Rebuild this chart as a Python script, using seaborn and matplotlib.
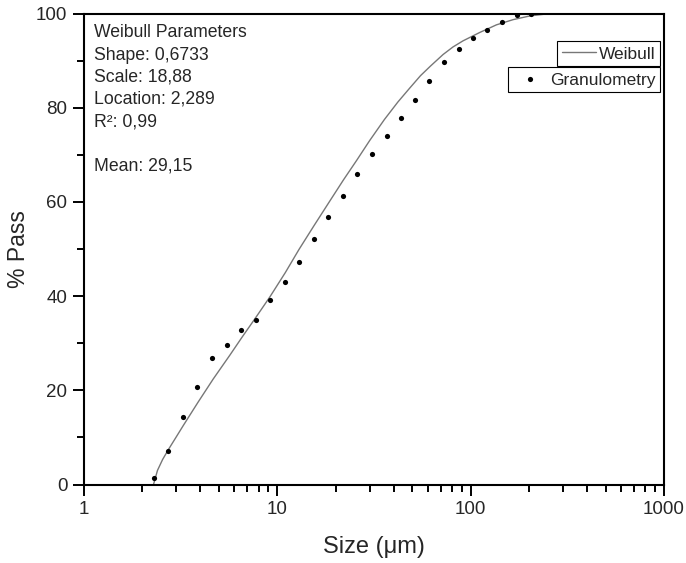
import matplotlib
matplotlib.use("Agg")
import numpy as np
import pandas as pd
import seaborn as sns
import matplotlib.pyplot as plt
from matplotlib.ticker import LogLocator, MultipleLocator, NullFormatter, FixedLocator, FixedFormatter

# ---- data ----
size_um = [2.29, 2.73, 3.25, 3.85, 4.57, 5.46, 6.49, 7.73, 9.16, 10.92, 12.95, 15.44,
           18.3, 21.8, 25.8, 30.8, 36.7, 43.4, 51.5, 61.0, 72.8, 87.0, 102.9, 121.0,
           145.0, 173.8, 205.0]
pass_pct = [1.4, 7.2, 14.3, 20.7, 26.9, 29.6, 32.8, 35.0, 39.1, 43.0, 47.3, 52.2,
            56.8, 61.3, 65.9, 70.2, 74.1, 77.9, 81.7, 85.6, 89.6, 92.4, 94.7, 96.4,
            98.1, 99.6, 100.0]

fit_size = [2.289, 2.4, 2.55, 2.74, 3.0, 3.26, 3.88, 4.66, 5.69, 6.6, 7.69, 9.14, 11.0,
            12.94, 15.5, 18.76, 22.0, 25.7, 30.0, 35.8, 42.0, 48.0, 55.0, 61.8, 72.0,
            81.0, 91.3, 111.7, 136.0, 165.8, 203.0, 246.0]
fit_pass = [0.0, 3.0, 5.3, 7.5, 10.1, 12.5, 17.4, 22.4, 27.5, 31.4, 35.3, 39.8, 45.0,
            49.9, 55.0, 60.3, 64.7, 68.8, 73.0, 77.5, 81.2, 84.0, 86.8, 88.8, 91.3,
            92.9, 94.2, 96.0, 97.6, 98.7, 99.5, 99.9]

x_ticks = [1, 10, 100, 1000]
x_tick_labels = ["1", "10", "100", "1000"]
y_ticks = [0, 20, 40, 60, 80, 100]
param_lines = ["Weibull Parameters", "Shape: 0,6733", "Scale: 18,88",
               "Location: 2,289", "R²: 0,99", "", "Mean: 29,15"]

sns.set_style("ticks")
plt.rcParams['font.family'] = ['Liberation Sans', 'DejaVu Sans']

fig = plt.figure(figsize=(6.86, 5.63), dpi=100)
ax = fig.add_axes([0.1224, 0.1394, 0.8456, 0.8366])

sns.lineplot(x=fit_size, y=fit_pass, ax=ax, color='#777777', lw=1.0, label='Weibull')
sns.scatterplot(x=size_um, y=pass_pct, ax=ax, color='black', s=14, linewidth=0,
                label='Granulometry', zorder=3)

ax.set_xscale('log')
ax.set_xlim(1, 1000)
ax.set_ylim(0, 100)

ax.xaxis.set_major_locator(FixedLocator(x_ticks))
ax.xaxis.set_major_formatter(FixedFormatter(x_tick_labels))
ax.xaxis.set_minor_locator(LogLocator(base=10, subs=np.arange(2, 10)))
ax.xaxis.set_minor_formatter(NullFormatter())
ax.set_yticks(y_ticks)
ax.yaxis.set_minor_locator(MultipleLocator(10))

for sp in ax.spines.values():
    sp.set_linewidth(1.5)
    sp.set_color('black')

ax.tick_params(which='major', direction='out', length=8, width=1.4, labelsize=13.5,
               color='black', pad=4)
ax.tick_params(which='minor', direction='out', length=5, width=1.4, color='black')
ax.tick_params(top=False, right=False, which='both')

ax.set_xlabel("Size (μm)", fontsize=17, labelpad=13)
ax.set_ylabel("% Pass", fontsize=16.5, labelpad=4)

ax.text(0.017, 0.977, "\n".join(param_lines), transform=ax.transAxes, ha='left',
        va='top', fontsize=12.7, linespacing=1.40)

# legends: two separate boxes
h, l = ax.get_legend_handles_labels()
if ax.get_legend() is not None:
    ax.get_legend().remove()
common = dict(loc='upper right', fontsize=12.5, frameon=True, fancybox=False,
              framealpha=1, edgecolor='black', borderpad=0.25, handletextpad=0.2,
              handlelength=1.95, handleheight=0.95, borderaxespad=0)
leg1 = ax.legend([h[0]], [l[0]], bbox_to_anchor=(0.993, 0.9416), **common)
leg1.get_frame().set_linewidth(0.8)
ax.add_artist(leg1)
leg2 = ax.legend([h[1]], [l[1]], bbox_to_anchor=(0.993, 0.886), **common)
leg2.get_frame().set_linewidth(0.8)

fig.savefig("out.png", dpi=100)
